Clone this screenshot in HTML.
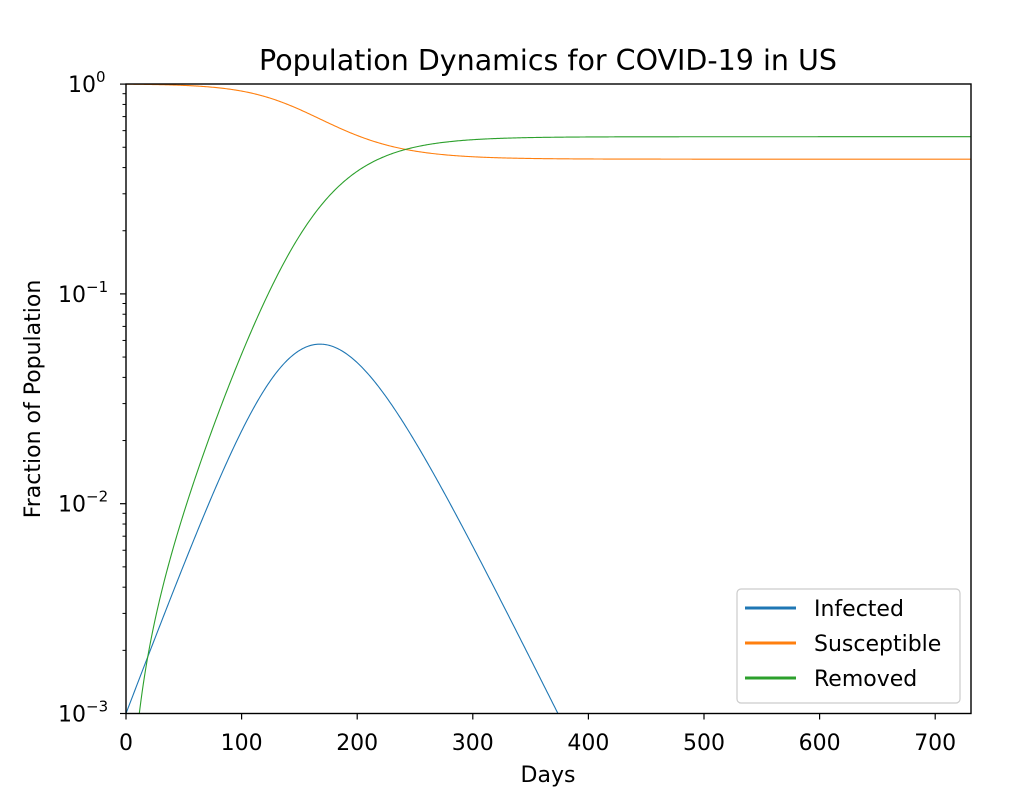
<!DOCTYPE html>
<html><head><meta charset="utf-8"><style>
html,body{margin:0;padding:0;background:#fff;overflow:hidden;width:1024px;height:799px;}
svg{display:block;font-family:"DejaVu Sans","Liberation Sans",sans-serif;}
</style></head><body>
<svg id="s" width="1024" height="799" viewBox="0 0 1024 799" xmlns="http://www.w3.org/2000/svg">
<rect width="1024" height="799" fill="#fff"/>
<text x="548" y="70" font-size="28.5" text-anchor="middle" fill="#000">Population Dynamics for COVID-19 in US</text>
<g id="curves"></g>
<g id="ticks" stroke="#000" stroke-width="1.2"></g>
<g id="labels" font-size="22" fill="#000"></g>
<rect x="126" y="84" width="845" height="629.5" fill="none" stroke="#000" stroke-width="1.4"/>
<text x="548" y="782" font-size="22" text-anchor="middle">Days</text>
<text transform="translate(40,399) rotate(-90)" font-size="22" text-anchor="middle">Fraction of Population</text>
<rect x="737" y="589" width="223" height="114" rx="4" fill="#fff" fill-opacity="0.85" stroke="#ccc" stroke-width="1.2"/>
<line x1="745" y1="608" x2="796" y2="608" stroke="#1f77b4" stroke-width="3"/>
<line x1="745" y1="643" x2="796" y2="643" stroke="#ff7f0e" stroke-width="3"/>
<line x1="745" y1="678" x2="796" y2="678" stroke="#2ca02c" stroke-width="3"/>
<text x="814" y="616" font-size="22">Infected</text>
<text x="814" y="651" font-size="22">Susceptible</text>
<text x="814" y="686" font-size="22">Removed</text>
</svg>
<script>
(function(){
var NS="http://www.w3.org/2000/svg";
var X0=126,PX=1.156,YB=713.5,DEC=209.8,XMAX=731;
function X(t){return X0+t*PX;}
function Y(v){return YB-(Math.log10(v)+3)*DEC;}
var g=0.0667*1.07,b=g*1.466;
var S=0.999,I=0.001,R=0,dt=0.05;
var ptsS=[],ptsI=[],ptsR=[];
function f(s,i){return [-b*s*i,b*s*i-g*i,g*i];}
for(var k=0;k*dt<=XMAX+0.01;k++){
  var t=k*dt;
  if(k%20==0){ptsS.push([t,S]);ptsI.push([t,I]);ptsR.push([t,R]);}
  var a=f(S,I),c=f(S+a[0]*dt/2,I+a[1]*dt/2),d=f(S+c[0]*dt/2,I+c[1]*dt/2),e=f(S+d[0]*dt,I+d[1]*dt);
  S+=dt/6*(a[0]+2*c[0]+2*d[0]+e[0]);I+=dt/6*(a[1]+2*c[1]+2*d[1]+e[1]);R+=dt/6*(a[2]+2*c[2]+2*d[2]+e[2]);
}
function path(p,col){
  var dd="",on=false;
  for(var i=0;i<p.length;i++){var v=p[i][1];if(v<=0){on=false;continue;}
    var y=Y(v);dd+=(on?"L":"M")+X(p[i][0]).toFixed(2)+","+y.toFixed(2);on=true;}
  var el=document.createElementNS(NS,"path");el.setAttribute("d",dd);el.setAttribute("fill","none");
  el.setAttribute("stroke",col);el.setAttribute("stroke-width","1.1");document.getElementById("curves").appendChild(el);
}
var cp=document.createElementNS(NS,"clipPath");cp.id="cl";var r=document.createElementNS(NS,"rect");
r.setAttribute("x",126);r.setAttribute("y",84);r.setAttribute("width",845);r.setAttribute("height",629.5);cp.appendChild(r);
document.getElementById("s").insertBefore(cp,document.getElementById("curves"));
document.getElementById("curves").setAttribute("clip-path","url(#cl)");
path(ptsI,"#1f77b4");path(ptsS,"#ff7f0e");path(ptsR,"#2ca02c");
var tk=document.getElementById("ticks"),lb=document.getElementById("labels");
function line(x1,y1,x2,y2,w){var l=document.createElementNS(NS,"line");l.setAttribute("x1",x1);l.setAttribute("y1",y1);l.setAttribute("x2",x2);l.setAttribute("y2",y2);if(w)l.setAttribute("stroke-width",w);tk.appendChild(l);}
for(var t=0;t<=700;t+=100){var x=X(t);line(x,713.5,x,719.5);
  var tx=document.createElementNS(NS,"text");tx.setAttribute("x",x);tx.setAttribute("y",750);tx.setAttribute("text-anchor","middle");tx.textContent=t;lb.appendChild(tx);}
var ex=["−3","−2","−1","0"];
for(var e=-3;e<=0;e++){var y=Y(Math.pow(10,e));line(120,y,126,y);
  var tx=document.createElementNS(NS,"text");tx.setAttribute("x",e==0?96:86);tx.setAttribute("y",y+8);tx.setAttribute("text-anchor","end");tx.textContent="10";lb.appendChild(tx);
  var sp=document.createElementNS(NS,"text");sp.setAttribute("x",e==0?96:86);sp.setAttribute("y",y-2);sp.setAttribute("font-size","15");sp.textContent=ex[e+3];lb.appendChild(sp);
  if(e<0)for(var m=2;m<=9;m++){var yy=Y(m*Math.pow(10,e));line(122.5,yy,126,yy,1);}
}
})();
</script>
</body></html>
